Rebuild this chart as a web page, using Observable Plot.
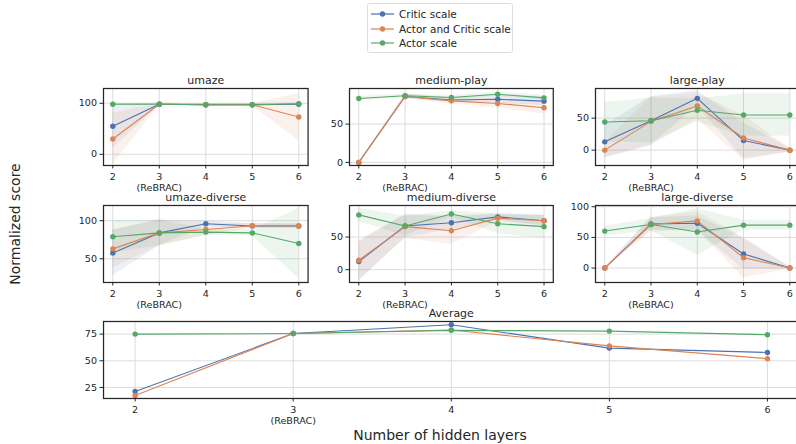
<!DOCTYPE html>
<html><head><meta charset="utf-8">
<script src="https://cdn.jsdelivr.net/npm/d3@7"></script>
<script src="https://cdn.jsdelivr.net/npm/@observablehq/plot@0.6"></script>
<style>
body{margin:0;background:#fff;font-family:"DejaVu Sans",sans-serif;}
#root{position:relative;width:796px;height:444px;overflow:hidden;background:#fff;}
.panel{position:absolute;}
.lab{position:absolute;color:#262626;white-space:nowrap;}
</style></head><body><div id="root"></div>
<script>
// ---- data ----
const layers = [2, 3, 4, 5, 6];
const xTickLabels = ["2", "3\n(ReBRAC)", "4", "5", "6"];
const seriesNames = ["Critic scale", "Actor and Critic scale", "Actor scale"];
const seriesColors = ["#4C72B0", "#DD8452", "#55A868"];
const panelTitles = ["umaze", "medium-play", "large-play", "umaze-diverse", "medium-diverse", "large-diverse", "Average"];

// mean scores per series: [Critic, Actor and Critic, Actor]
const umazeMean = [[55, 98, 97, 97, 98], [30, 98, 97, 97, 73], [98, 98, 97, 97, 99]];
const umazeStd = [[43, 2, 2, 2, 2], [50, 2, 2, 2, 46], [2, 2, 2, 2, 2]];
const mediumPlayMean = [[0, 86, 81.5, 82.5, 80], [0, 86, 80.4, 77, 71.3], [83.4, 87, 84.7, 89, 84.3]];
const mediumPlayStd = [[0, 3, 3, 5, 6], [0, 3, 4, 6, 8], [3, 2, 2, 3, 3]];
const largePlayMean = [[13, 46, 81, 15, 0], [0, 45, 69, 19, 0], [44, 46, 62.5, 55, 55]];
const largePlayStd = [[25, 38, 12, 28, 3], [12, 38, 20, 35, 3], [31, 35, 18, 33, 33]];
const umazeDiverseMean = [[57.5, 84, 96, 93, 93], [63, 84, 88.5, 93.4, 93], [79, 84, 85, 84, 70]];
const umazeDiverseStd = [[30, 17, 4, 3, 3], [25, 17, 8, 3, 3], [21, 17, 4, 4, 46]];
const mediumDiverseMean = [[12.4, 67, 72, 81, 75], [14.4, 66, 59.7, 79, 75], [84, 67, 85.5, 70.5, 66]];
const mediumDiverseStd = [[30, 18, 10, 5, 8], [30, 18, 21, 5, 8], [10, 15, 5, 15, 18]];
const largeDiverseMean = [[0, 72, 73, 23, 0], [0, 71, 77, 17, 0], [60.3, 71, 58.7, 70, 70]];
const largeDiverseStd = [[0, 10, 12, 25, 2], [0, 12, 15, 33, 2], [8, 10, 38, 8, 8]];
const averageMean = [[21.2, 75.5, 83.7, 61.9, 57.8], [17.5, 75.5, 78.8, 64, 52], [75, 75.5, 78.5, 77.8, 74.4]];

// y axes
const umazeYTicks = [0, 100], mediumPlayYTicks = [0, 50], largePlayYTicks = [0, 50];
const umazeDiverseYTicks = [50, 100], mediumDiverseYTicks = [0, 50], largeDiverseYTicks = [0, 50, 100];
const averageYTicks = [25, 50, 75];

// ---- layout (frame boxes in page pixels) ----
const panels = [
  {title: panelTitles[0], mean: umazeMean, std: umazeStd, yDomain: [-22, 129], yTicks: umazeYTicks, box: [102.7, 88, 307.3, 165]},
  {title: panelTitles[1], mean: mediumPlayMean, std: mediumPlayStd, yDomain: [-4, 96.5], yTicks: mediumPlayYTicks, box: [348.7, 88, 552.5, 165]},
  {title: panelTitles[2], mean: largePlayMean, std: largePlayStd, yDomain: [-24, 96.4], yTicks: largePlayYTicks, box: [594.7, 88, 798.3, 165]},
  {title: panelTitles[3], mean: umazeDiverseMean, std: umazeDiverseStd, yDomain: [18.8, 120], yTicks: umazeDiverseYTicks, box: [102.7, 204.7, 307.3, 281.7]},
  {title: panelTitles[4], mean: mediumDiverseMean, std: mediumDiverseStd, yDomain: [-19.6, 98.4], yTicks: mediumDiverseYTicks, box: [348.7, 204.7, 552.5, 281.7]},
  {title: panelTitles[5], mean: largeDiverseMean, std: largeDiverseStd, yDomain: [-23.5, 102], yTicks: largeDiverseYTicks, box: [594.7, 204.7, 798.3, 281.7]},
  {title: panelTitles[6], mean: averageMean, std: null, yDomain: [14.7, 86.8], yTicks: averageYTicks, box: [103.4, 320.7, 799, 397.7]}
];

const root = document.getElementById("root");
const ML = 45, MR = 6, MT = 24, MB = 34;

for (const p of panels) {
  const rows = [];
  p.mean.forEach((vals, si) => vals.forEach((v, i) => {
    const sd = p.std ? p.std[si][i] : 0;
    rows.push({series: seriesNames[si], layer: layers[i], mean: v, lo: v - sd, hi: v + sd});
  }));
  const [x0, y0, x1, y1] = p.box;
  const w = x1 - x0, h = y1 - y0;
  const marks = [
    Plot.gridX({ticks: layers, stroke: "#dcdcdc", strokeOpacity: 1, strokeWidth: 1}),
    Plot.gridY({ticks: p.yTicks, stroke: "#dcdcdc", strokeOpacity: 1, strokeWidth: 1})
  ];
  if (p.std) {
    seriesNames.forEach(s => marks.push(Plot.areaY(rows.filter(d => d.series === s), {x: "layer", y1: "lo", y2: "hi", fill: "series", fillOpacity: 0.11, clip: true})));
  }
  seriesNames.forEach(s => {
    const d = rows.filter(r => r.series === s);
    marks.push(Plot.line(d, {x: "layer", y: "mean", stroke: "series", strokeWidth: 1.1}));
    marks.push(Plot.dot(d, {x: "layer", y: "mean", fill: "series", r: 2.7}));
  });
  marks.push(Plot.frame({stroke: "#262626", strokeWidth: 1.25}));
  marks.push(Plot.axisX({ticks: layers, tickFormat: d => xTickLabels[layers.indexOf(d)], tickSize: 3.5, tickPadding: 3, label: null, lineHeight: 1.15}));
  marks.push(Plot.axisY({ticks: p.yTicks, tickSize: 3.5, tickPadding: 3, label: null}));
  marks.push(Plot.text([p.title], {frameAnchor: "top", dy: -4, lineAnchor: "bottom", fontSize: 11, fontWeight: "normal", fill: "#262626"}));
  const chart = Plot.plot({
    width: w + ML + MR, height: h + MT + MB,
    marginLeft: ML, marginRight: MR, marginTop: MT, marginBottom: MB,
    x: {domain: [1.8, 6.2]},
    y: {domain: p.yDomain},
    color: {domain: seriesNames, range: seriesColors},
    style: {background: "none", overflow: "visible", fontFamily: "DejaVu Sans", fontSize: "9.6px", color: "#262626"},
    marks
  });
  chart.classList.add("panel");
  chart.style.left = (x0 - ML) + "px";
  chart.style.top = (y0 - MT) + "px";
  root.appendChild(chart);
}

// axis labels
const xl = document.createElement("div");
xl.className = "lab"; xl.textContent = "Number of hidden layers";
xl.style.cssText += "font-size:14px;left:440px;top:427px;transform:translateX(-50%);";
root.appendChild(xl);
const yl = document.createElement("div");
yl.className = "lab"; yl.textContent = "Normalized score";
yl.style.cssText += "font-size:14px;left:15px;top:224px;transform:translate(-50%,-50%) rotate(-90deg);";
root.appendChild(yl);

// legend
const lg = document.createElement("div");
lg.style.cssText = "position:absolute;left:367px;top:3px;width:146px;height:50px;border:1px solid #dcdcdc;border-radius:3px;background:#fff;box-sizing:border-box;";
seriesNames.forEach((s, i) => {
  const row = document.createElement("div");
  row.style.cssText = `position:absolute;left:0;top:${3 + i * 14.7}px;height:14px;width:146px;`;
  row.innerHTML = `<svg width="30" height="14" style="position:absolute;left:2px;top:0"><line x1="1" y1="7" x2="24" y2="7" stroke="${seriesColors[i]}" stroke-width="1.2"/><circle cx="12.5" cy="7" r="2.7" fill="${seriesColors[i]}"/></svg><span style="position:absolute;left:31px;top:0;font-size:10.5px;line-height:14px;color:#262626">${s}</span>`;
  lg.appendChild(row);
});
root.appendChild(lg);
</script>
</body></html>
